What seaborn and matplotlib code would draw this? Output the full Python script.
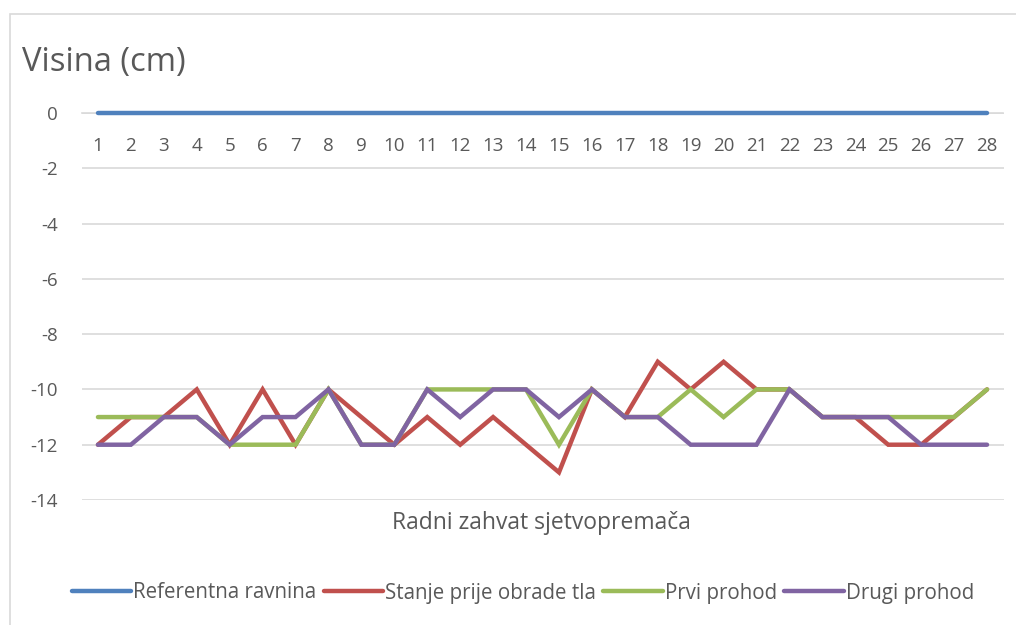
import matplotlib
matplotlib.use("Agg")
import matplotlib.pyplot as plt
import seaborn as sns
import pandas as pd
from matplotlib.patches import Rectangle
from matplotlib.lines import Line2D

positions = list(range(1, 29))
referentna = [0] * 28
stanje = [-12, -11, -11, -10, -12, -10, -12, -10, -11, -12, -11, -12, -11, -12,
          -13, -10, -11, -9, -10, -9, -10, -10, -11, -11, -12, -12, -11, -10]
prvi = [-11, -11, -11, -11, -12, -12, -12, -10, -12, -12, -10, -10, -10, -10,
        -12, -10, -11, -11, -10, -11, -10, -10, -11, -11, -11, -11, -11, -10]
drugi = [-12, -12, -11, -11, -12, -11, -11, -10, -12, -12, -10, -11, -10, -10,
         -11, -10, -11, -11, -12, -12, -12, -10, -11, -11, -11, -12, -12, -12]
series_names = ["Referentna ravnina", "Stanje prije obrade tla", "Prvi prohod", "Drugi prohod"]
colors = ["#4F81BD", "#C0504D", "#9BBB59", "#8064A2"]
yticks = [0, -2, -4, -6, -8, -10, -12, -14]

sns.set_theme(style="white")
plt.rcParams['font.family'] = ['Open Sans', 'DejaVu Sans']

frames = []
for name, vals in zip(series_names, [referentna, stanje, prvi, drugi]):
    frames.append(pd.DataFrame({"x": positions, "y": vals, "serija": name}))
df = pd.concat(frames, ignore_index=True)

fig = plt.figure(figsize=(10.16, 6.25), dpi=100)
fig.patch.set_facecolor("white")
fig.patches.append(Rectangle((10 / 1016, -0.1), 1.2, (625 - 14) / 625 + 0.1,
                             transform=fig.transFigure, fill=False,
                             edgecolor="#D9D9D9", lw=1.2))
ax = fig.add_axes([81.5 / 1016, 125 / 625, 922 / 1016, 387 / 625])

sns.lineplot(data=df, x="x", y="y", hue="serija", palette=colors,
             hue_order=series_names, linewidth=3.2, ax=ax, legend=False,
             clip_on=False, zorder=3)
for ln in ax.lines:
    ln.set_solid_capstyle("round")
    ln.set_solid_joinstyle("miter")

ax.set_xlim(0.5, 28.5)
ax.set_ylim(-14, 0)
ax.set_yticks(yticks)
ax.set_yticklabels([str(v) for v in yticks])
ax.set_xticks(positions)
ax.set_xticklabels([str(p) for p in positions])
ax.yaxis.grid(True, color="#D9D9D9", lw=1.2)
ax.set_axisbelow(True)
for s in ["top", "right", "left"]:
    ax.spines[s].set_visible(False)
ax.spines["bottom"].set_position(("data", 0))
ax.spines["bottom"].set_color("#D9D9D9")
ax.spines["bottom"].set_linewidth(1.2)
ax.tick_params(axis="both", length=0, labelsize=13.5, colors="#595959")
ax.tick_params(axis="x", pad=17)
ax.tick_params(axis="y", pad=17)
ax.set_xlabel("")
ax.set_ylabel("")

fig.text(22 / 1016, 1 - 62 / 625, "Visina (cm)", fontsize=23.6, color="#595959",
         ha="left", va="center")
fig.text(541 / 1016, 1 - 523 / 625, "Radni zahvat sjetvopremača", fontsize=16.5,
         color="#595959", ha="center", va="center")

handles = [Line2D([], [], color=c, lw=3.2, solid_capstyle="round") for c in colors]
leg = fig.legend(handles, series_names, loc="center", bbox_to_anchor=(523 / 1016, 1 - 593 / 625),
                 ncol=4, frameon=False, fontsize=14.8, handlelength=2.9,
                 handletextpad=0.1, columnspacing=0.35)
for t in leg.get_texts():
    t.set_color("#595959")

fig.savefig("out.png", dpi=100, facecolor="white")
